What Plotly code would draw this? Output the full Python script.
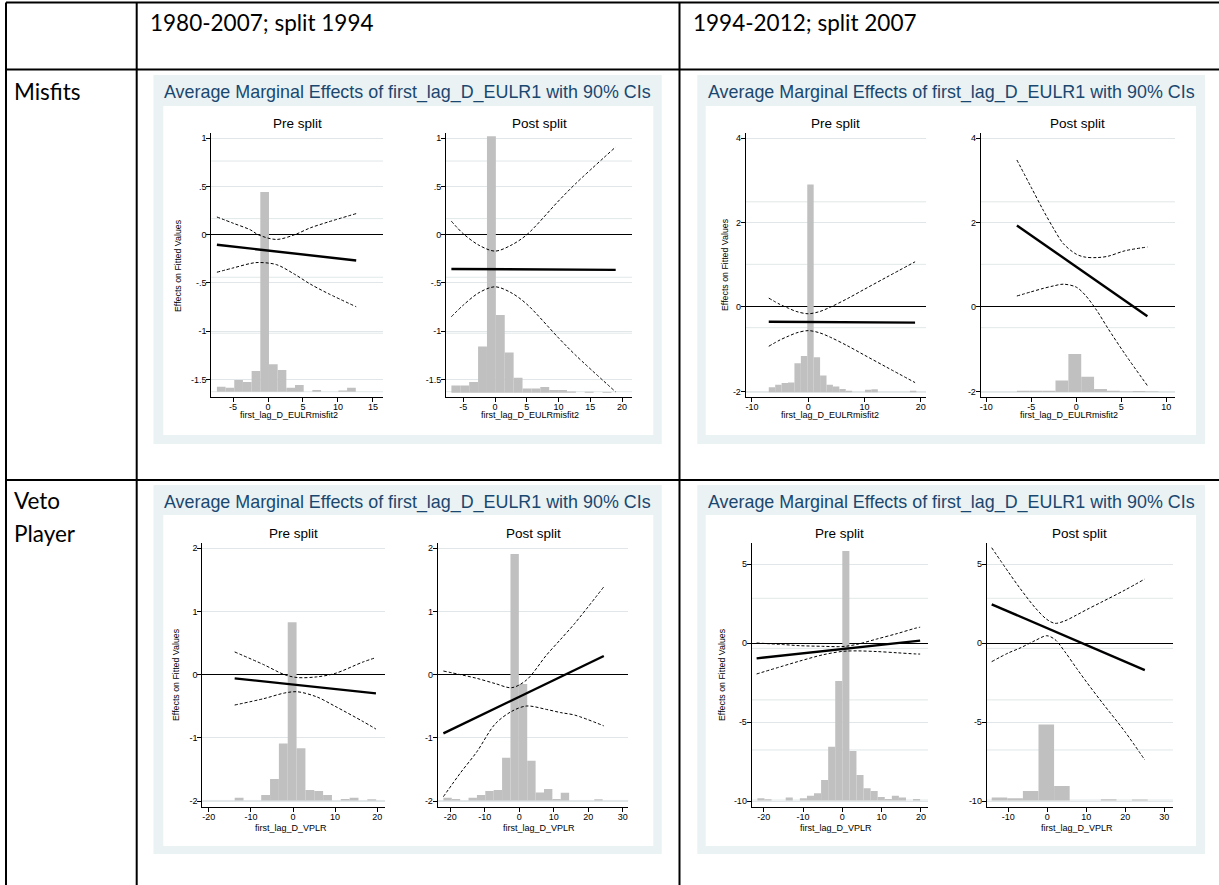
import plotly.graph_objects as go

W, H = 1219, 885

# ---------------- data ----------------
# Misfits, 1980-2007, pre split
mis80_pre_hist_x = [-6.68, -5.44, -4.20, -2.96, -1.72, -0.48, 0.76, 2.00, 3.24, 4.48, 5.72, 6.96, 8.20, 9.44, 10.68, 11.92]
mis80_pre_hist_top = [-1.576, -1.587, -1.507, -1.528, -1.413, 0.444, -1.344, -1.403, -1.587, -1.559, -1.628, -1.611, -1.628, -1.628, -1.615, -1.587]
mis80_pre_hist_w = 1.24
mis80_pre_hist_base = -1.628
mis80_pre_me_x = [-7.3, 12.6]
mis80_pre_me_y = [-0.104, -0.267]
mis80_pre_ci_x = [-7.3, -5, -2.5, -1.4, 1.2, 3.8, 6, 8.6, 12.6]
mis80_pre_ci_hi = [0.184, 0.12, 0.05, 0.0, -0.049, 0.0, 0.07, 0.132, 0.219]
mis80_pre_ci_lo = [-0.389, -0.345, -0.298, -0.288, -0.31, -0.41, -0.51, -0.61, -0.747]

# Misfits, 1980-2007, post split
mis80_post_hist_x = [-6.17, -4.77, -3.37, -1.97, -0.57, 0.83, 2.23, 3.63, 5.03, 6.43, 7.83, 9.23, 10.63, 12.03, 13.43, 14.83, 16.23, 17.63]
mis80_post_hist_top = [-1.5625, -1.5625, -1.528, -1.160, 1.02, -0.833, -1.222, -1.483, -1.594, -1.594, -1.580, -1.611, -1.611, -1.625, -1.639, -1.628, -1.639, -1.632]
mis80_post_hist_w = 1.4
mis80_post_hist_base = -1.639
mis80_post_me_x = [-6.87, 19.0]
mis80_post_me_y = [-0.355, -0.365]
mis80_post_ci_x = [-6.87, -5, -2.5, 0, 2.5, 5, 10, 12.7, 19]
mis80_post_ci_hi = [0.14, 0.01, -0.11, -0.17, -0.11, 0.0, 0.35, 0.53, 0.91]
mis80_post_ci_lo = [-0.85, -0.73, -0.60, -0.54, -0.60, -0.72, -1.07, -1.25, -1.63]

# Misfits, 1994-2012, pre split
mis94_pre_hist_x = [-6.43, -5.29, -4.15, -3.01, -1.87, -0.73, 0.41, 1.55, 2.69, 3.83, 4.97, 6.11, 7.25, 8.39, 9.53, 10.67, 11.81, 12.95, 14.09, 15.23, 16.37, 17.51, 18.65]
mis94_pre_hist_top = [-1.90, -1.84, -1.80, -1.79, -1.33, -1.16, 2.90, -1.19, -1.62, -1.84, -1.88, -1.94, -1.98, -2.02, -2.02, -1.96, -1.95, -2.02, -2.02, -2.02, -2.02, -2.02, -1.98]
mis94_pre_hist_w = 1.14
mis94_pre_hist_base = -2.02
mis94_pre_me_x = [-7.0, 19.0]
mis94_pre_me_y = [-0.348, -0.37]
mis94_pre_ci_x = [-7, -5, -3.5, -2, 0, 2, 4, 7, 10, 14, 19]
mis94_pre_ci_hi = [0.21, 0.06, -0.03, -0.11, -0.16, -0.11, 0.0, 0.2, 0.42, 0.71, 1.07]
mis94_pre_ci_lo = [-0.93, -0.78, -0.69, -0.61, -0.56, -0.61, -0.72, -0.92, -1.14, -1.43, -1.79]

# Misfits, 1994-2012, post split
mis94_post_hist_x = [-5.885, -4.455, -3.025, -1.595, -0.165, 1.265, 2.695, 4.125, 5.555, 6.985, 8.415]
mis94_post_hist_top = [-1.98, -1.98, -1.98, -1.74, -1.11, -1.65, -1.94, -1.98, -2.0, -1.99, -2.0]
mis94_post_hist_w = 1.43
mis94_post_hist_base = -2.01
mis94_post_me_x = [-6.6, 7.9]
mis94_post_me_y = [1.93, -0.22]
mis94_post_ci_x = [-6.6, -5, -3.67, -2.5, -1.44, 0, 1, 2.27, 3.5, 5.4, 7.9]
mis94_post_ci_hi = [3.48, 2.83, 2.29, 1.85, 1.50, 1.25, 1.18, 1.17, 1.2, 1.33, 1.42]
mis94_post_ci_lo = [0.26, 0.36, 0.44, 0.50, 0.54, 0.47, 0.28, -0.08, -0.5, -1.11, -1.86]

# Veto player, 1980-2007, pre split
vp80_pre_hist_x = [-12.8, -10.7, -8.6, -6.5, -4.4, -2.3, -0.2, 1.9, 4.0, 6.1, 8.2, 10.3, 12.4, 14.5, 16.6, 18.7]
vp80_pre_hist_top = [-1.947, -1.99, -1.99, -1.905, -1.652, -1.087, 0.828, -1.166, -1.826, -1.842, -1.905, -1.99, -1.968, -1.947, -1.99, -1.97]
vp80_pre_hist_w = 2.1
vp80_pre_hist_base = -1.99
vp80_pre_me_x = [-13.85, 19.7]
vp80_pre_me_y = [-0.058, -0.296]
vp80_pre_ci_x = [-13.85, -7, -2, 1, 5.6, 10, 16.6, 19.7]
vp80_pre_ci_hi = [0.36, 0.16, 0.0, -0.045, -0.035, 0.02, 0.2, 0.27]
vp80_pre_ci_lo = [-0.48, -0.38, -0.29, -0.27, -0.35, -0.50, -0.74, -0.86]

# Veto player, 1980-2007, post split
vp80_post_hist_x = [-20.785, -18.355, -15.925, -13.495, -11.065, -8.635, -6.205, -3.775, -1.345, 1.085, 3.515, 5.945, 8.375, 10.805, 13.235, 15.665, 18.095, 20.525, 22.955]
vp80_post_hist_top = [-1.947, -1.968, -1.99, -1.947, -1.905, -1.842, -1.826, -1.314, 1.91, -0.148, -1.361, -1.863, -1.81, -1.968, -1.868, -1.99, -1.99, -1.99, -1.97]
vp80_post_hist_w = 2.43
vp80_post_hist_base = -1.99
vp80_post_me_x = [-22.0, 24.5]
vp80_post_me_y = [-0.929, 0.295]
vp80_post_ci_x = [-22, -17, -12.3, -7, -2.2, 2.1, 7.9, 12, 16.1, 24.5]
vp80_post_ci_hi = [0.058, 0.0, -0.058, -0.14, -0.206, -0.084, 0.311, 0.56, 0.813, 1.39]
vp80_post_ci_lo = [-1.93, -1.55, -1.22, -0.78, -0.58, -0.496, -0.55, -0.60, -0.64, -0.81]

# Veto player, 1994-2012, pre split
vp94_pre_hist_x = [-20.7, -18.9, -17.1, -15.3, -13.5, -11.7, -9.9, -8.1, -6.3, -4.5, -2.7, -0.9, 0.9, 2.7, 4.5, 6.3, 8.1, 9.9, 11.7, 13.5, 15.3, 17.1, 18.9]
vp94_pre_hist_top = [-9.83, -9.89, -9.96, -9.96, -9.77, -9.96, -9.83, -9.66, -9.51, -8.67, -6.56, -2.41, 5.82, -6.84, -8.35, -9.2, -9.37, -9.75, -9.87, -9.66, -9.77, -9.96, -9.87]
vp94_pre_hist_w = 1.8
vp94_pre_hist_base = -9.96
vp94_pre_me_x = [-21.8, 19.8]
vp94_pre_me_y = [-0.97, 0.15]
vp94_pre_ci_x = [-21.8, -15, -10.8, -5, -0.6, 1.1, 4, 8.75, 14, 18.5, 19.8]
vp94_pre_ci_hi = [0.0, -0.1, -0.17, -0.21, -0.23, -0.2, -0.07, 0.25, 0.6, 0.93, 1.0]
vp94_pre_ci_lo = [-1.96, -1.45, -1.14, -0.75, -0.55, -0.51, -0.50, -0.54, -0.62, -0.69, -0.70]

# Veto player, 1994-2012, post split
vp94_post_hist_x = [-12.26, -8.26, -4.26, -0.26, 3.74, 7.74, 11.74, 15.74, 19.74, 23.74]
vp94_post_hist_top = [-9.77, -9.83, -9.37, -5.15, -9.05, -9.96, -9.96, -9.89, -9.96, -9.9]
vp94_post_hist_w = 4.0
vp94_post_hist_base = -9.96
vp94_post_me_x = [-14.26, 25]
vp94_post_me_y = [2.45, -1.72]
vp94_post_ci_x = [-14.26, -10, -7, -3, -0.15, 1.97, 4.5, 7.5, 10, 14, 19.9, 25]
vp94_post_ci_hi = [6.03, 4.5, 3.46, 2.2, 1.5, 1.245, 1.4, 1.77, 2.1, 2.6, 3.35, 4.05]
vp94_post_ci_lo = [-1.18, -0.63, -0.32, 0.17, 0.46, 0.22, -0.55, -1.6, -2.45, -3.75, -5.61, -7.4]

# tick values / labels
ytick_mis80 = [1, 0.5, 0, -0.5, -1, -1.5]
ylab_mis80 = ["1", ".5", "0", "-.5", "-1", "-1.5"]
ytick_mis94 = [4, 2, 0, -2]
ylab_mis94 = ["4", "2", "0", "-2"]
ytick_vp80 = [2, 1, 0, -1, -2]
ylab_vp80 = ["2", "1", "0", "-1", "-2"]
ytick_vp94 = [5, 0, -5, -10]
ylab_vp94 = ["5", "0", "-5", "-10"]
xtick_mis80_pre = [-5, 0, 5, 10, 15]
xtick_mis80_post = [-5, 0, 5, 10, 15, 20]
xtick_mis94_pre = [-10, 0, 10, 20]
xtick_mis94_post = [-10, -5, 0, 5, 10]
xtick_vp80_pre = [-20, -10, 0, 10, 20]
xtick_vp80_post = [-20, -10, 0, 10, 20, 30]
xtick_vp94_pre = [-20, -10, 0, 10, 20]
xtick_vp94_post = [-10, 0, 10, 20, 30]
# secondary (histogram axis) gridlines
grid2_mis80 = [0.764, 0.167, -0.441, -1.021, -1.628]
grid2_mis94 = [2.49, 1.01, -0.49, -2.02]
grid2_vp80 = [-1.99]
grid2_vp94 = [2.83, -0.34, -3.6, -6.77, -9.94]

header_cols = ["1980-2007; split 1994", "1994-2012; split 2007"]
row_labels = ["Misfits", "Veto", "Player"]
panel_title = "Average Marginal Effects of first_lag_D_EULR1 with 90% CIs"
sub_titles = ["Pre split", "Post split"]
x_titles = ["first_lag_D_EULRmisfit2", "first_lag_D_VPLR"]
y_title = "Effects on Fitted Values"

G = globals()
def pdata(name):
    return dict(hx=G[name + "_hist_x"], ht=G[name + "_hist_top"], hw=G[name + "_hist_w"],
                hb=G[name + "_hist_base"], mx=G[name + "_me_x"], my=G[name + "_me_y"],
                cx=G[name + "_ci_x"], chi=G[name + "_ci_hi"], clo=G[name + "_ci_lo"])

# geometry (pixels): left, right, top, bottom, x range, y range
panels = [
    dict(d=pdata("mis80_pre"), px=(211.3, 383), py=(132.7, 397.3), xr=[-8.1, 16.43], yr=[-1.686, 1.058],
         xt=xtick_mis80_pre, yt=ytick_mis80, yl=ylab_mis80, g2=grid2_mis80, sub=0, xtitle=(x_titles[0], 289, 415), ytitle=(178, 265)),
    dict(d=pdata("mis80_post"), px=(446, 632), py=(132.7, 397.3), xr=[-7.72, 21.57], yr=[-1.686, 1.058],
         xt=xtick_mis80_post, yt=ytick_mis80, yl=ylab_mis80, g2=grid2_mis80, sub=1, xtitle=(x_titles[0], 530, 415), ytitle=None),
    dict(d=pdata("mis94_pre"), px=(745.7, 926), py=(132.7, 397.3), xr=[-11.1, 20.94], yr=[-2.138, 4.126],
         xt=xtick_mis94_pre, yt=ytick_mis94, yl=ylab_mis94, g2=grid2_mis94, sub=0, xtitle=(x_titles[0], 830, 415), ytitle=(725, 265)),
    dict(d=pdata("mis94_post"), px=(980.7, 1175), py=(132.7, 397.3), xr=[-10.62, 10.97], yr=[-2.138, 4.126],
         xt=xtick_mis94_post, yt=ytick_mis94, yl=ylab_mis94, g2=grid2_mis94, sub=1, xtitle=(x_titles[0], 1069, 415), ytitle=None),
    dict(d=pdata("vp80_pre"), px=(202.3, 385), py=(543.3, 806.7), xr=[-21.54, 21.85], yr=[-2.089, 2.079],
         xt=xtick_vp80_pre, yt=ytick_vp80, yl=ylab_vp80, g2=grid2_vp80, sub=0, xtitle=(x_titles[1], 291, 828), ytitle=(176, 675)),
    dict(d=pdata("vp80_post"), px=(437.7, 628.3), py=(543.3, 806.7), xr=[-23.65, 31.6], yr=[-2.089, 2.079],
         xt=xtick_vp80_post, yt=ytick_vp80, yl=ylab_vp80, g2=grid2_vp80, sub=1, xtitle=(x_titles[1], 539, 828), ytitle=None),
    dict(d=pdata("vp94_pre"), px=(751.7, 928), py=(543.3, 806.7), xr=[-23.05, 21.8], yr=[-10.36, 6.31],
         xt=xtick_vp94_pre, yt=ytick_vp94, yl=ylab_vp94, g2=grid2_vp94, sub=0, xtitle=(x_titles[1], 836, 828), ytitle=(722, 675)),
    dict(d=pdata("vp94_post"), px=(986.7, 1173), py=(543.3, 806.7), xr=[-15.54, 32.23], yr=[-10.36, 6.31],
         xt=xtick_vp94_post, yt=ytick_vp94, yl=ylab_vp94, g2=grid2_vp94, sub=1, xtitle=(x_titles[1], 1077, 828), ytitle=None),
]

FONT = "Liberation Sans"
HIST = "#c0c0c0"
GRID = "#e1e7e8"
BG = "rgb(234,242,243)"
NAVY = "rgb(26,71,111)"

def xp(v):
    return v / W

def yp(v):
    return 1 - v / H

fig = go.Figure()
layout = dict(width=W, height=H, margin=dict(l=0, r=0, t=0, b=0), autosize=False,
              paper_bgcolor="white", plot_bgcolor="rgba(0,0,0,0)", showlegend=False)
shapes = []
annotations = []

# panel backgrounds (outer light bluish-grey, inner white) - drawn first
boxes = [((153.5, 661.7, 75, 444), (163.3, 653.3, 106, 435)),
         ((697.3, 1205, 75, 444), (705.7, 1196, 106, 435)),
         ((153.5, 661.7, 485, 854), (163.3, 653.3, 515, 846)),
         ((697.3, 1205, 485, 854), (705.7, 1196, 515, 846))]
for outer, inner in boxes:
    for (x0, x1, y0, y1), col in ((outer, BG), (inner, "white")):
        shapes.append(dict(type="rect", xref="paper", yref="paper", x0=xp(x0), x1=xp(x1), y0=yp(y1), y1=yp(y0),
                           fillcolor=col, line=dict(width=0), layer="below"))

for i, p in enumerate(panels, start=1):
    xa = "x" if i == 1 else f"x{i}"
    ya = "y" if i == 1 else f"y{i}"
    d = p["d"]
    fig.add_trace(go.Bar(x=d["hx"], y=[t - d["hb"] for t in d["ht"]], base=d["hb"], width=d["hw"],
                         marker=dict(color=HIST, line=dict(width=0)), xaxis=xa, yaxis=ya, hoverinfo="skip"))
    for yy in (d["chi"], d["clo"]):
        fig.add_trace(go.Scatter(x=d["cx"], y=yy, mode="lines", xaxis=xa, yaxis=ya, hoverinfo="skip",
                                 line=dict(color="black", width=1, dash="3px,2px", shape="spline", smoothing=0.9)))
    fig.add_trace(go.Scatter(x=d["mx"], y=d["my"], mode="lines", xaxis=xa, yaxis=ya, hoverinfo="skip",
                             line=dict(color="black", width=2.4)))
    l, r = p["px"]
    t, b = p["py"]
    layout["xaxis" if i == 1 else f"xaxis{i}"] = dict(
        domain=[xp(l), xp(r)], range=p["xr"], anchor=ya, showline=True, linecolor="black", linewidth=1,
        ticks="outside", ticklen=4, tickwidth=1, tickcolor="black", tickvals=p["xt"],
        ticktext=[str(v) for v in p["xt"]], tickfont=dict(family=FONT, size=9, color="black"),
        ticklabelstandoff=-3, showgrid=False, zeroline=False, fixedrange=True)
    layout["yaxis" if i == 1 else f"yaxis{i}"] = dict(
        domain=[yp(b), yp(t)], range=p["yr"], anchor=xa, showline=True, linecolor="black", linewidth=1,
        ticks="outside", ticklen=4, tickwidth=1, tickcolor="black", tickvals=p["yt"], ticktext=p["yl"],
        tickfont=dict(family=FONT, size=9, color="black"), ticklabelstandoff=-2,
        showgrid=True, gridcolor=GRID, gridwidth=1,
        zeroline=True, zerolinecolor="black", zerolinewidth=1, fixedrange=True)
    for g in p["g2"]:
        shapes.append(dict(type="line", xref="paper", yref=ya, x0=xp(l), x1=xp(r), y0=g, y1=g,
                           line=dict(color=GRID, width=1), layer="below"))
    # subtitle
    sub_y = 123 if t < 300 else 533
    annotations.append(dict(text=sub_titles[p["sub"]], x=xp((l + r) / 2), y=yp(sub_y), xref="paper", yref="paper",
                            showarrow=False, xanchor="center", yanchor="middle",
                            font=dict(family=FONT, size=13.5, color="black")))
    xt_text, xt_x, xt_y = p["xtitle"]
    annotations.append(dict(text=xt_text, x=xp(xt_x), y=yp(xt_y), xref="paper", yref="paper", showarrow=False,
                            xanchor="center", yanchor="middle", font=dict(family=FONT, size=9, color="black")))
    if p["ytitle"]:
        annotations.append(dict(text=y_title, x=xp(p["ytitle"][0]), y=yp(p["ytitle"][1]), xref="paper", yref="paper",
                                showarrow=False, textangle=-90, xanchor="center", yanchor="middle",
                                font=dict(family=FONT, size=8.8, color="black")))

title_pos = [(407.6, 92.5), (951.2, 92.5), (407.6, 503), (951.2, 503)]
for cx, cy in title_pos:
    annotations.append(dict(text=panel_title, x=xp(cx), y=yp(cy), xref="paper", yref="paper", showarrow=False,
                            xanchor="center", yanchor="middle", font=dict(family=FONT, size=17.9, color=NAVY)))

# table grid lines
hlines = [2.5, 69.5, 480]
vlines = [6.0, 136.7, 679.5]
for yv in hlines:
    shapes.append(dict(type="line", xref="paper", yref="paper", x0=xp(6.0), x1=1, y0=yp(yv), y1=yp(yv),
                       line=dict(color="black", width=2), layer="above"))
for xv in vlines:
    shapes.append(dict(type="line", xref="paper", yref="paper", x0=xp(xv), x1=xp(xv), y0=yp(2.5), y1=0,
                       line=dict(color="black", width=2), layer="above"))

TFONT = dict(family="Lato", size=22.5, color="black")
annotations.append(dict(text=header_cols[0], x=xp(148), y=yp(23), xref="paper", yref="paper", showarrow=False,
                        xanchor="left", yanchor="middle", font=TFONT))
annotations.append(dict(text=header_cols[1], x=xp(691), y=yp(23), xref="paper", yref="paper", showarrow=False,
                        xanchor="left", yanchor="middle", font=TFONT))
for txt, yy in zip(row_labels, [91, 501, 533]):
    annotations.append(dict(text=txt, x=xp(12), y=yp(yy), xref="paper", yref="paper", showarrow=False,
                            xanchor="left", yanchor="middle", font=TFONT))

layout["shapes"] = shapes
layout["annotations"] = annotations
fig.update_layout(**layout)
fig.write_html("out.html", config={"displayModeBar": False, "staticPlot": True})

with open("out.html", encoding="utf-8") as fh:
    html = fh.read()
html = html.replace("<head>", "<head><style>html,body{margin:0;padding:0;overflow:hidden;}</style>", 1)
with open("out.html", "w", encoding="utf-8") as fh:
    fh.write(html)
